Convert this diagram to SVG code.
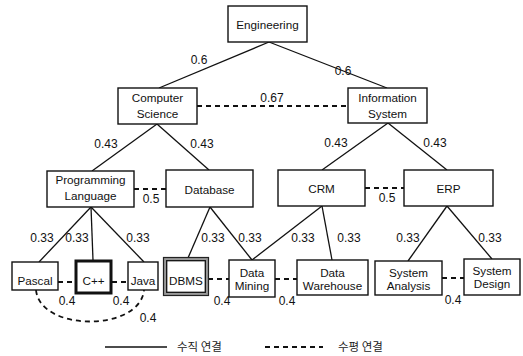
<svg xmlns="http://www.w3.org/2000/svg" width="523" height="356" viewBox="0 0 523 356">
<style>
.box{fill:#fff;stroke:#111;stroke-width:1.4}
.t{font-family:"Liberation Sans",Arial,sans-serif;font-size:11.7px;fill:#111;text-anchor:middle}
.n{font-family:"Liberation Sans",Arial,sans-serif;font-size:12px;fill:#111;text-anchor:middle}
.v{stroke:#111;stroke-width:1.3;fill:none}
.h{stroke:#111;stroke-width:1.8;stroke-dasharray:5 4;fill:none}
.k{font-family:"Noto Sans CJK KR","Noto Sans CJK SC",sans-serif;font-size:11.5px;fill:#222}
</style>
<rect width="523" height="356" fill="#fff"/>
<g id="connectors">
<line class="v" x1="269" y1="42" x2="159" y2="88"/>
<line class="v" x1="269" y1="42" x2="387" y2="88"/>
<line class="v" x1="157" y1="124" x2="92" y2="171"/>
<line class="v" x1="157" y1="124" x2="209" y2="170"/>
<line class="v" x1="388" y1="123" x2="322" y2="170"/>
<line class="v" x1="388" y1="123" x2="447" y2="170"/>
<line class="v" x1="91" y1="207" x2="39" y2="262"/>
<line class="v" x1="91" y1="207" x2="93" y2="260"/>
<line class="v" x1="91" y1="207" x2="144" y2="262"/>
<line class="v" x1="210" y1="207" x2="188" y2="258"/>
<line class="v" x1="210" y1="207" x2="252" y2="260"/>
<line class="v" x1="322" y1="206" x2="252" y2="260"/>
<line class="v" x1="322" y1="206" x2="332" y2="260"/>
<line class="v" x1="447" y1="206" x2="408" y2="261"/>
<line class="v" x1="447" y1="206" x2="492" y2="259"/>
<line class="h" x1="197" y1="106" x2="348" y2="106"/>
<line class="h" x1="134" y1="189" x2="166" y2="189"/>
<line class="h" x1="365" y1="188" x2="404" y2="188"/>
<line class="h" x1="58" y1="282" x2="75" y2="282"/>
<line class="h" x1="112" y1="282" x2="128" y2="282"/>
<line class="h" x1="208" y1="279" x2="229" y2="279"/>
<line class="h" x1="275" y1="279" x2="297" y2="279"/>
<line class="h" x1="442" y1="278" x2="464" y2="278"/>
<path class="h" d="M36,290 C40,332 140,332 144,290"/>
<g class="n">
<text x="199" y="64">0.6</text>
<text x="343" y="75">0.6</text>
<text x="272" y="102">0.67</text>
<text x="106" y="148">0.43</text>
<text x="202" y="148">0.43</text>
<text x="336" y="147">0.43</text>
<text x="435" y="147">0.43</text>
<text x="151" y="203">0.5</text>
<text x="387" y="202">0.5</text>
<text x="42" y="242">0.33</text>
<text x="77" y="242">0.33</text>
<text x="138" y="242">0.33</text>
<text x="213" y="242">0.33</text>
<text x="250" y="242">0.33</text>
<text x="303" y="242">0.33</text>
<text x="349" y="242">0.33</text>
<text x="408" y="242">0.33</text>
<text x="490" y="242">0.33</text>
<text x="67" y="305">0.4</text>
<text x="121" y="305">0.4</text>
<text x="148" y="322">0.4</text>
<text x="222" y="305">0.4</text>
<text x="287" y="305">0.4</text>
<text x="453" y="304">0.4</text>
</g>
</g>
<g id="engineering"><rect class="box" x="228" y="6" width="79" height="36"/><text class="t" x="267.5" y="29">Engineering</text></g>
<g id="computer-science"><rect class="box" x="118" y="88" width="79" height="36"/><text class="t" x="157.5" y="102">Computer</text><text class="t" x="157.5" y="118">Science</text></g>
<g id="information-system"><rect class="box" x="348" y="88" width="79" height="35"/><text class="t" x="387.5" y="102">Information</text><text class="t" x="387.5" y="118">System</text></g>
<g id="programming-language"><rect class="box" x="47" y="171" width="87" height="36"/><text class="t" x="90.5" y="184">Programming</text><text class="t" x="90.5" y="200">Language</text></g>
<g id="database"><rect class="box" x="166" y="170" width="87" height="37"/><text class="t" x="209.5" y="194">Database</text></g>
<g id="crm"><rect class="box" x="278" y="170" width="87" height="36"/><text class="t" x="321.5" y="193">CRM</text></g>
<g id="erp"><rect class="box" x="404" y="170" width="89" height="36"/><text class="t" x="448.5" y="193">ERP</text></g>
<g id="pascal"><rect class="box" x="12" y="262" width="46" height="28"/><text class="t" x="35" y="285">Pascal</text></g>
<g id="cpp"><rect x="76" y="261" width="35" height="32" fill="#fff" stroke="#111" stroke-width="3"/><text class="t" x="93.5" y="285">C++</text></g>
<g id="java"><rect class="box" x="128" y="262" width="30" height="28"/><text class="t" x="143" y="285">Java</text></g>
<g id="dbms"><rect x="165" y="259" width="42" height="35" fill="#fff" stroke="#999" stroke-width="3.6"/><rect x="163.5" y="257.5" width="45" height="38" fill="none" stroke="#222" stroke-width="1.2"/><rect x="166.7" y="260.7" width="38.6" height="31.6" fill="none" stroke="#111" stroke-width="1.3"/><text class="t" x="186" y="285">DBMS</text></g>
<g id="data-mining"><rect class="box" x="229" y="260" width="46" height="37"/><text class="t" x="252" y="277">Data</text><text class="t" x="252" y="290">Mining</text></g>
<g id="data-warehouse"><rect class="box" x="297" y="260" width="71" height="35"/><text class="t" x="332.5" y="277">Data</text><text class="t" x="332.5" y="290">Warehouse</text></g>
<g id="system-analysis"><rect class="box" x="375" y="261" width="67" height="34"/><text class="t" x="408.5" y="277">System</text><text class="t" x="408.5" y="290">Analysis</text></g>
<g id="system-design"><rect class="box" x="464" y="259" width="56" height="36"/><text class="t" x="492" y="275">System</text><text class="t" x="492" y="288">Design</text></g>
<g id="legend">
<line class="v" x1="105" y1="347" x2="167" y2="347"/>
<text class="k" x="177" y="351">수직 연결</text>
<line class="h" x1="265" y1="347" x2="323" y2="347"/>
<text class="k" x="338" y="351">수평 연결</text>
</g>
</svg>
